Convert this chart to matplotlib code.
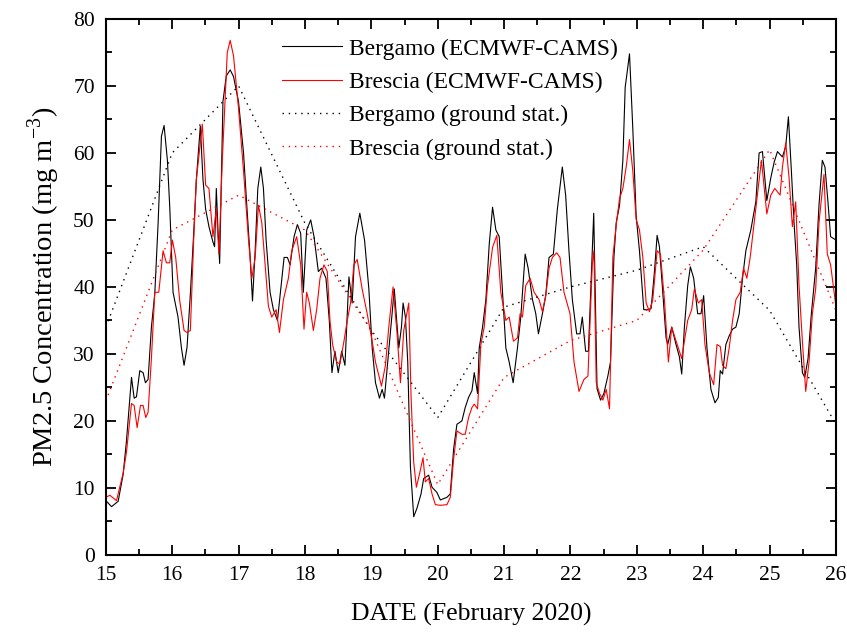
import matplotlib
matplotlib.use("Agg")
import matplotlib.pyplot as plt
from matplotlib.ticker import MultipleLocator

plt.rcParams['font.family'] = ['Liberation Serif', 'DejaVu Serif']
plt.rcParams['mathtext.fontset'] = 'custom'
plt.rcParams['mathtext.rm'] = 'Liberation Serif'

# ECMWF-CAMS Bergamo (day of February 2020, ug/m3)
bergamo_t = [15.0, 15.085, 15.185, 15.26, 15.31, 15.386, 15.426, 15.461, 15.511, 15.561,
             15.596, 15.636, 15.686, 15.737, 15.787, 15.837, 15.877, 15.927, 15.962, 16.012,
             16.087, 16.137, 16.178, 16.223, 16.273, 16.323, 16.363, 16.423, 16.463, 16.503,
             16.553, 16.613, 16.638, 16.664, 16.689, 16.714, 16.764, 16.814, 16.873, 16.923,
             16.998, 17.074, 17.124, 17.174, 17.209, 17.249, 17.289, 17.334, 17.374, 17.414,
             17.474, 17.524, 17.585, 17.635, 17.685, 17.735, 17.775, 17.835, 17.885, 17.935,
             17.975, 18.025, 18.086, 18.136, 18.201, 18.251, 18.316, 18.366, 18.406, 18.451,
             18.501, 18.552, 18.602, 18.662, 18.711, 18.761, 18.826, 18.897, 18.962, 19.012,
             19.062, 19.122, 19.162, 19.197, 19.247, 19.312, 19.345, 19.413, 19.453, 19.478,
             19.513, 19.548, 19.588, 19.638, 19.688, 19.748, 19.788, 19.863, 19.914, 19.989,
             20.039, 20.139, 20.189, 20.239, 20.289, 20.364, 20.414, 20.464, 20.515, 20.55,
             20.60, 20.625, 20.675, 20.725, 20.776, 20.826, 20.876, 20.926, 20.976, 21.026,
             21.076, 21.136, 21.201, 21.251, 21.317, 21.362, 21.427, 21.477, 21.517, 21.577,
             21.627, 21.677, 21.742, 21.802, 21.877, 21.927, 21.977, 22.028, 22.093, 22.143,
             22.178, 22.228, 22.27, 22.35, 22.40, 22.453, 22.503, 22.563, 22.603, 22.654,
             22.689, 22.739, 22.789, 22.824, 22.889, 22.939, 22.989, 23.039, 23.104, 23.165,
             23.215, 23.265, 23.305, 23.340, 23.390, 23.440, 23.465, 23.525, 23.590, 23.640,
             23.676, 23.716, 23.766, 23.806, 23.856, 23.916, 23.966, 24.006, 24.056, 24.116,
             24.177, 24.227, 24.256, 24.291, 24.341, 24.391, 24.442, 24.492, 24.542, 24.592,
             24.642, 24.717, 24.792, 24.842, 24.892, 24.958, 25.018, 25.068, 25.118, 25.193,
             25.243, 25.283, 25.328, 25.368, 25.408, 25.443, 25.494, 25.529, 25.579, 25.629,
             25.694, 25.744, 25.794, 25.834, 25.879, 25.919, 26.0]
bergamo_v = [8.1, 7.2, 8.0, 12.0, 17.0, 26.5, 23.4, 23.6, 27.5, 27.2,
             25.7, 26.2, 34.0, 39.0, 49.5, 62.5, 64.1, 58.9, 52.0, 39.2,
             35.5, 31.0, 28.3, 31.0, 39.0, 48.0, 56.0, 64.0, 56.0, 51.6,
             49.0, 46.7, 46.0, 54.7, 48.5, 43.5, 67.7, 71.5, 72.4, 71.4,
             67.7, 60.0, 52.0, 44.4, 37.9, 45.4, 54.7, 57.9, 54.7, 47.0,
             39.2, 36.6, 35.0, 39.7, 44.4, 44.4, 43.3, 47.5, 49.3, 48.0,
             39.2, 48.5, 50.0, 47.5, 42.3, 42.8, 41.3, 35.0, 27.2, 30.4,
             27.2, 30.4, 28.3, 41.5, 37.6, 47.5, 51.0, 47.0, 39.7, 30.9,
             25.7, 23.4, 24.7, 23.4, 28.8, 36.0, 39.7, 30.9, 34.0, 37.6,
             35.5, 28.8, 13.2, 5.7, 7.0, 9.1, 11.4, 11.9, 10.1, 9.3,
             8.2, 8.6, 9.1, 15.8, 19.5, 20.0, 22.0, 23.5, 24.5, 27.2,
             24.1, 30.9, 34.0, 38.1, 46.4, 51.9, 48.5, 47.5, 39.2, 30.9,
             28.8, 25.7, 30.9, 35.5, 44.9, 42.8, 38.1, 36.0, 33.0, 36.0,
             38.7, 44.4, 44.9, 51.6, 57.9, 53.7, 45.4, 38.1, 33.0, 33.0,
             35.5, 30.4, 30.4, 51.0, 24.8, 23.1, 24.1, 26.7, 28.8, 44.4,
             49.6, 52.2, 58.9, 69.8, 74.8, 63.6, 50.6, 45.4, 36.6, 36.6,
             36.8, 42.3, 47.7, 46.0, 39.2, 32.4, 31.4, 34.0, 31.4, 29.6,
             27.0, 34.0, 40.2, 43.0, 41.3, 36.0, 36.0, 38.7, 30.9, 24.7,
             22.7, 23.5, 27.5, 27.0, 31.4, 32.7, 33.7, 34.0, 36.0, 41.3,
             45.4, 48.5, 52.7, 60.0, 60.2, 52.9, 56.3, 58.6, 60.2, 59.4,
             61.0, 65.4, 57.3, 49.6, 43.3, 34.0, 27.2, 26.5, 29.3, 36.0,
             42.8, 52.2, 58.9, 57.9, 52.7, 47.5, 47.0]

# ECMWF-CAMS Brescia
brescia_t = [15.0, 15.06, 15.16, 15.26, 15.31, 15.386, 15.426, 15.471, 15.521, 15.561,
             15.601, 15.636, 15.686, 15.737, 15.797, 15.862, 15.912, 15.962, 16.002, 16.052,
             16.112, 16.178, 16.223, 16.273, 16.323, 16.363, 16.453, 16.503, 16.553, 16.613,
             16.664, 16.704, 16.754, 16.829, 16.873, 16.923, 16.998, 17.074, 17.149, 17.199,
             17.249, 17.299, 17.349, 17.399, 17.449, 17.499, 17.565, 17.615, 17.675, 17.75,
             17.80, 17.875, 17.935, 17.985, 18.025, 18.066, 18.126, 18.176, 18.226, 18.286,
             18.336, 18.376, 18.416, 18.476, 18.526, 18.587, 18.637, 18.686, 18.736, 18.786,
             18.861, 18.937, 19.012, 19.062, 19.152, 19.212, 19.262, 19.327, 19.387, 19.438,
             19.488, 19.563, 19.598, 19.638, 19.678, 19.728, 19.778, 19.813, 19.863, 19.914,
             19.964, 20.039, 20.139, 20.189, 20.239, 20.289, 20.364, 20.414, 20.464, 20.515,
             20.55, 20.60, 20.65, 20.70, 20.75, 20.826, 20.89, 20.95, 21.026, 21.076,
             21.141, 21.201, 21.241, 21.276, 21.326, 21.392, 21.452, 21.527, 21.577, 21.627,
             21.677, 21.727, 21.792, 21.842, 21.902, 21.993, 22.053, 22.128, 22.203, 22.263,
             22.328, 22.353, 22.388, 22.438, 22.488, 22.538, 22.588, 22.638, 22.689, 22.739,
             22.789, 22.839, 22.889, 22.939, 22.989, 23.039, 23.09, 23.14, 23.19, 23.24,
             23.305, 23.355, 23.415, 23.475, 23.525, 23.575, 23.625, 23.676, 23.716, 23.766,
             23.826, 23.866, 23.926, 23.976, 24.026, 24.091, 24.157, 24.207, 24.257, 24.291,
             24.341, 24.391, 24.442, 24.492, 24.557, 24.607, 24.657, 24.707, 24.767, 24.827,
             24.877, 24.958, 25.018, 25.078, 25.158, 25.193, 25.243, 25.293, 25.343, 25.393,
             25.443, 25.494, 25.544, 25.594, 25.644, 25.694, 25.744, 25.819, 25.869, 25.919,
             26.0]
brescia_v = [8.6, 8.9, 8.1, 12.2, 15.3, 22.6, 22.3, 19.0, 22.3, 22.3,
             20.5, 21.3, 29.3, 39.2, 39.2, 45.4, 43.6, 43.6, 47.0, 44.4,
             38.0, 33.5, 33.2, 33.5, 47.0, 56.0, 64.3, 55.2, 54.7, 47.5,
             51.6, 44.9, 58.9, 75.0, 76.8, 74.5, 66.7, 57.3, 47.0, 41.3,
             44.4, 52.2, 49.6, 43.3, 37.1, 35.5, 36.6, 33.2, 38.1, 41.3,
             45.4, 47.5, 43.3, 33.7, 39.2, 37.6, 33.5, 36.6, 41.3, 43.3,
             42.3, 35.0, 31.4, 28.8, 28.5, 31.9, 35.0, 37.6, 43.3, 44.1,
             39.7, 36.0, 31.9, 28.8, 25.2, 28.3, 34.0, 40.0, 33.0, 25.7,
             33.5, 37.6, 23.6, 13.8, 10.1, 12.2, 14.5, 10.9, 11.4, 9.1,
             7.5, 7.4, 7.5, 8.6, 14.3, 18.5, 18.0, 18.0, 20.5, 22.0,
             22.5, 21.8, 31.4, 34.0, 40.2, 45.9, 47.7, 39.2, 35.0, 35.5,
             31.9, 32.4, 36.0, 35.5, 40.2, 41.3, 39.2, 38.1, 36.3, 38.7,
             42.8, 44.4, 45.1, 44.4, 39.2, 36.0, 28.8, 24.4, 26.2, 26.7,
             43.3, 45.4, 25.7, 24.1, 23.1, 24.7, 21.8, 44.4, 49.3, 53.2,
             54.7, 57.9, 62.0, 57.3, 50.1, 48.5, 44.4, 37.6, 36.3, 38.1,
             45.4, 44.9, 38.1, 28.8, 34.0, 32.4, 30.9, 29.3, 31.9, 35.0,
             36.6, 39.7, 37.6, 38.1, 31.4, 27.2, 25.4, 31.4, 31.1, 28.3,
             27.8, 30.9, 35.0, 38.1, 39.2, 42.8, 41.3, 44.4, 49.6, 54.7,
             58.9, 50.9, 53.7, 54.7, 53.7, 57.9, 61.5, 56.3, 49.0, 52.7,
             40.2, 31.9, 24.4, 28.8, 36.0, 39.7, 49.6, 56.8, 44.9, 43.3,
             37.0]

# ground stations, daily values
ground_days = [15, 16, 17, 18, 19, 20, 21, 22, 23, 24, 25, 26]
bergamo_ground = [34, 60, 70, 49.5, 33.5, 20.5, 37, 40, 42.5, 46, 36.5, 19.5]
brescia_ground = [23, 48.5, 53.7, 48.5, 33.5, 10.5, 26.5, 32, 35, 45.5, 60.5, 36.5]

fig = plt.figure(figsize=(8.47, 6.32), dpi=100)
ax = fig.add_axes([0.125, 0.122, 0.862, 0.848])

ax.plot(bergamo_t, bergamo_v, color='black', lw=0.8, label='Bergamo (ECMWF-CAMS)')
ax.plot(brescia_t, brescia_v, color='red', lw=0.8, label='Brescia (ECMWF-CAMS)')
ax.plot(ground_days, bergamo_ground, color='black', lw=1.0, linestyle=(0, (1, 3.5)),
        label='Bergamo (ground stat.)')
ax.plot(ground_days, brescia_ground, color='red', lw=1.0, linestyle=(0, (1, 3.5)),
        label='Brescia (ground stat.)')

ax.set_xlim(15, 26)
ax.set_ylim(0, 80)
ax.xaxis.set_major_locator(MultipleLocator(1))
ax.xaxis.set_minor_locator(MultipleLocator(0.5))
ax.yaxis.set_major_locator(MultipleLocator(10))
ax.yaxis.set_minor_locator(MultipleLocator(5))
ax.tick_params(which='both', direction='in', top=True, right=True, width=1.3,
               labelsize=15.5)
ax.tick_params(which='major', length=7, pad=8)
ax.tick_params(which='minor', length=4)
for s in ax.spines.values():
    s.set_linewidth(1.5)

ax.set_xlabel('DATE (February 2020)', fontsize=18.5, labelpad=13)
ax.set_ylabel(r'PM2.5 Concentration (mg m$^{\mathregular{-3}}$)', fontsize=20.5, labelpad=8)

ax.legend(loc='upper left', bbox_to_anchor=(0.212, 1.004), frameon=False,
          fontsize=17, handlelength=2.55, labelspacing=0.5, handletextpad=0.3)

fig.savefig('out.png', dpi=100)
